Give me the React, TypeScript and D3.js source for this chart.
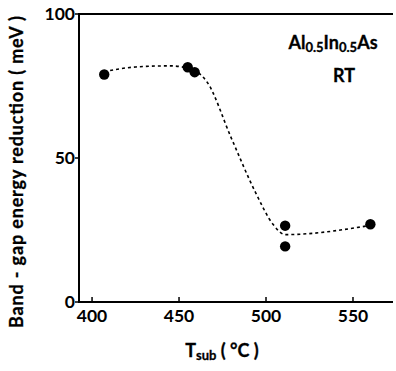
import * as d3 from "d3";

// measured points: substrate temperature (°C), band-gap reduction (meV)
const tempC = [407, 455, 459, 511, 511, 560];
const reduction = [79, 81.5, 79.8, 26.5, 19.3, 27];

// hand-drawn guide curve through the data
const curveT = [407, 425, 445, 458, 466, 480, 494, 504, 511, 560];
const curveE = [80, 81.6, 82, 80.6, 76.5, 57, 38, 27, 23.4, 26.6];

const xTicks = [400, 450, 500, 550];
const yTicks = [0, 50, 100];

export default function App() {
  const width = 396;
  const height = 371;
  const left = 79;
  const top = 14;
  const bottom = 302;
  const right = 393;

  const x = d3.scaleLinear().domain([392.5, 573]).range([left, right]);
  const y = d3.scaleLinear().domain([0, 100]).range([bottom, top]);

  const line = d3
    .line<number>()
    .x((_, i) => x(curveT[i]))
    .y((d) => y(d))
    .curve(d3.curveMonotoneX);

  const font = "Lato, 'Open Sans', sans-serif";

  return (
    <svg
      width={width}
      height={height}
      style={{ position: "absolute", left: 0, top: 0, background: "#fff" }}
      fontFamily={font}
      fontWeight="bold"
    >
      {/* frame */}
      <line x1={left} x2={right} y1={top} y2={top} stroke="#000" strokeWidth={2} />
      <line x1={left} x2={left} y1={top - 1} y2={bottom + 1} stroke="#000" strokeWidth={2} />
      <line x1={left - 1} x2={right} y1={bottom} y2={bottom} stroke="#000" strokeWidth={2} />

      {xTicks.map((t) => (
        <g key={t}>
          <line x1={x(t)} x2={x(t)} y1={bottom} y2={bottom - 5} stroke="#000" strokeWidth={1.5} />
          <text x={x(t)} y={bottom + 20} textAnchor="middle" fontSize={17.5}>
            {t}
          </text>
        </g>
      ))}
      {yTicks.map((t) => (
        <g key={t}>
          <line x1={left} x2={left - 4} y1={y(t)} y2={y(t)} stroke="#000" strokeWidth={1.5} />
          <text x={left - 4} y={y(t) + 6} textAnchor="end" fontSize={17.5}>
            {t}
          </text>
        </g>
      ))}

      <path d={line(curveE) || undefined} fill="none" stroke="#000" strokeWidth={1.6} strokeDasharray="3,3" />

      {tempC.map((t, i) => (
        <circle key={i} cx={x(t)} cy={y(reduction[i])} r={5.2} fill="#000" />
      ))}

      <text x={333} y={49} textAnchor="middle" fontSize={18} stroke="#000" strokeWidth={0.3}>
        Al<tspan fontSize={13} dy={3}>0.5</tspan>
        <tspan dy={-3}>In</tspan>
        <tspan fontSize={13} dy={3}>0.5</tspan>
        <tspan dy={-3}>As</tspan>
      </text>
      <text x={344} y={82} textAnchor="middle" fontSize={18} stroke="#000" strokeWidth={0.3}>
        RT
      </text>

      <text x={222} y={357} textAnchor="middle" fontSize={18} stroke="#000" strokeWidth={0.3}>
        T<tspan fontSize={13} dy={3}>sub</tspan>
        <tspan dy={-3}> ( °C )</tspan>
      </text>

      <text
        transform={`translate(23, ${172}) rotate(-90)`}
        textAnchor="middle"
        fontSize={18}
        stroke="#000"
        strokeWidth={0.3}
        textLength={312}
        lengthAdjust="spacing"
      >
        Band - gap energy reduction ( meV )
      </text>
    </svg>
  );
}
